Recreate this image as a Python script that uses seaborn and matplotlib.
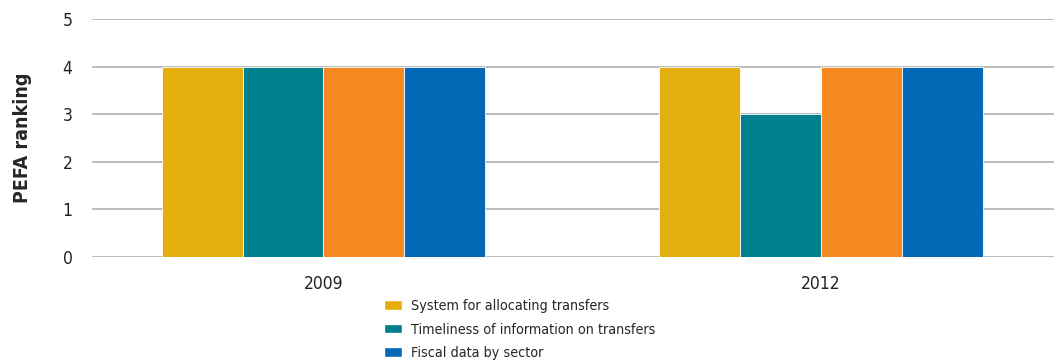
import pandas as pd
import numpy as np
from matplotlib import pyplot as plt
from matplotlib.patches import Patch
import seaborn as sns

# datos
years = ['2009', '2012']
series = ['System for allocating transfers',
          'Timeliness of information on transfers',
          'Other indicator',
          'Fiscal data by sector']
values = {
    'System for allocating transfers': [4, 4],
    'Timeliness of information on transfers': [4, 3],
    'Other indicator': [4, 4],
    'Fiscal data by sector': [4, 4],
}
legend_series = ['System for allocating transfers',
                 'Timeliness of information on transfers',
                 'Fiscal data by sector']
colors = ['#E4AF0E', '#00808C', '#F58A22', '#0369B6']

rows = []
for s in series:
    for y, v in zip(years, values[s]):
        rows.append({'year': y, 'indicator': s, 'value': v})
df = pd.DataFrame(rows)

sns.set_style('white')
plt.rcParams['font.family'] = ['DejaVu Sans']
plt.rcParams['font.stretch'] = 'condensed'

fig = plt.figure(figsize=(10.54, 3.64), dpi=100)
ax = fig.add_axes([0.0873, 0.294, 0.9127, 0.654])

sns.barplot(data=df, x='year', y='value', hue='indicator',
            hue_order=series, palette=colors, width=0.65,
            saturation=1, ax=ax, legend=False, zorder=3)

for c in ax.containers:
    for p in c:
        p.set_edgecolor('white')
        p.set_linewidth(0.6)

ax.set_ylim(0, 5)
ax.set_xlim(-0.465, 1.468)
ax.set_yticks(range(0, 6))
ax.yaxis.grid(True, color='#AAAAAA', linewidth=1.1, zorder=0)
ax.set_axisbelow(True)
for sp in ax.spines.values():
    sp.set_visible(False)
ax.tick_params(axis='both', length=0, labelsize=12.5, colors='#222222')
ax.tick_params(axis='y', pad=14)
ax.tick_params(axis='x', pad=13)
ax.set_xlabel('')
ax.set_ylabel('PEFA ranking', fontsize=14, fontweight='bold', labelpad=22)

handles = [Patch(facecolor=colors[series.index(s)], label=s) for s in legend_series]
fig.legend(handles=handles, loc='upper left', bbox_to_anchor=(0.364, 0.178),
           frameon=False, fontsize=10.3, handlelength=1.3, handleheight=0.65,
           handletextpad=0.6, labelspacing=0.65, borderaxespad=0, borderpad=0)

plt.savefig('out.png', dpi=100)
